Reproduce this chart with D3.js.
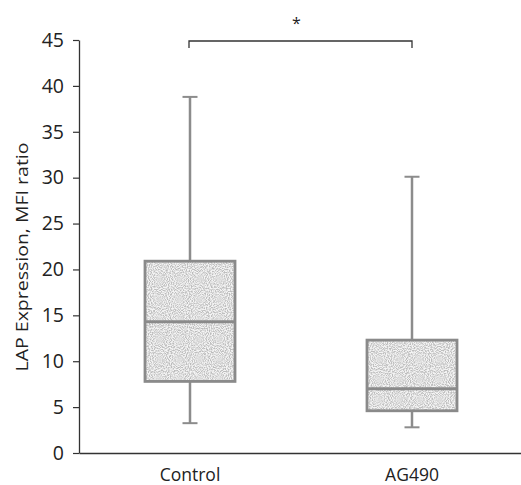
<!DOCTYPE html>
<html>
<head>
<meta charset="utf-8">
<script src="https://cdn.jsdelivr.net/npm/d3@7"></script>
<style>
  body { margin: 0; background: #fff; }
  text { font-family: "Open Sans", "Liberation Sans", sans-serif; fill: #222; }
</style>
</head>
<body>
<svg id="chart"></svg>
<script>
// data
const groups = ["Control", "AG490"];
const whiskerLow = [3.25, 2.8];
const q1 = [7.8, 4.6];
const medians = [14.3, 7.0];
const q3 = [20.9, 12.3];
const whiskerHigh = [38.8, 30.1];
const yTicks = [0, 5, 10, 15, 20, 25, 30, 35, 40, 45];
const sigLabel = "*";
const sigLevel = 45;

const width = 521, height = 485;
const svg = d3.select("#chart").attr("width", width).attr("height", height);

const x = d3.scaleBand().domain(groups).range([79, 523]);
const y = d3.scaleLinear().domain([0, 45]).range([453, 40]);

// stipple texture for the boxes
const defs = svg.append("defs");
const filt = defs.append("filter").attr("id", "grain")
  .attr("x", 0).attr("y", 0).attr("width", 1).attr("height", 1);
filt.append("feTurbulence").attr("type", "fractalNoise")
  .attr("baseFrequency", 0.95).attr("numOctaves", 1).attr("seed", 3).attr("result", "n");
filt.append("feColorMatrix").attr("in", "n").attr("type", "matrix")
  .attr("values", "0 0 0 0 0.5  0 0 0 0 0.5  0 0 0 0 0.5  0 0 0 -3 1.9")
  .attr("result", "dots");
filt.append("feComposite").attr("in", "dots").attr("in2", "SourceGraphic").attr("operator", "in");

// y axis
const yAxis = svg.append("g")
  .attr("transform", "translate(79,0)")
  .call(d3.axisLeft(y).tickValues(yTicks).tickSize(6).tickSizeOuter(0));
yAxis.select(".domain").attr("stroke", "#333").attr("stroke-width", 1.3);
yAxis.selectAll(".tick line").attr("stroke", "#333").attr("stroke-width", 1.2);
yAxis.selectAll(".tick text").attr("x", -15).style("font-size", "19.5px").attr("fill", "#222");

// x axis
const xAxis = svg.append("g")
  .attr("transform", "translate(0,453)")
  .call(d3.axisBottom(x).tickSize(0).tickSizeOuter(0));
xAxis.select(".domain").attr("stroke", "#333").attr("stroke-width", 1.3);
xAxis.selectAll(".tick text").attr("y", 28).attr("dy", 0).style("font-size", "17.5px").attr("fill", "#222");

// y label
svg.append("text")
  .attr("transform", "translate(28,257) rotate(-90)")
  .attr("text-anchor", "middle")
  .style("font-size", "17px")
  .attr("textLength", 229)
  .attr("lengthAdjust", "spacingAndGlyphs")
  .text("LAP Expression, MFI ratio");

const boxW = 90, capW = 15;
const boxes = svg.append("g").selectAll("g")
  .data(groups)
  .enter().append("g");

// whiskers
boxes.append("line")
  .attr("x1", d => x(d) + x.bandwidth() / 2)
  .attr("x2", d => x(d) + x.bandwidth() / 2)
  .attr("y1", (d, i) => y(whiskerLow[i]))
  .attr("y2", (d, i) => y(whiskerHigh[i]))
  .attr("stroke", "#8c8c8c").attr("stroke-width", 2.5);
[whiskerLow, whiskerHigh].forEach(arr => {
  boxes.append("line")
    .attr("x1", d => x(d) + x.bandwidth() / 2 - capW / 2)
    .attr("x2", d => x(d) + x.bandwidth() / 2 + capW / 2)
    .attr("y1", (d, i) => y(arr[i]))
    .attr("y2", (d, i) => y(arr[i]))
    .attr("stroke", "#8c8c8c").attr("stroke-width", 2);
});

// box body
boxes.append("rect")
  .attr("x", d => x(d) + x.bandwidth() / 2 - boxW / 2)
  .attr("width", boxW)
  .attr("y", (d, i) => y(q3[i]))
  .attr("height", (d, i) => y(q1[i]) - y(q3[i]))
  .attr("fill", "#f4f4f4");
boxes.append("rect")
  .attr("x", d => x(d) + x.bandwidth() / 2 - boxW / 2)
  .attr("width", boxW)
  .attr("y", (d, i) => y(q3[i]))
  .attr("height", (d, i) => y(q1[i]) - y(q3[i]))
  .attr("fill", "#000")
  .attr("filter", "url(#grain)");
boxes.append("rect")
  .attr("x", d => x(d) + x.bandwidth() / 2 - boxW / 2)
  .attr("width", boxW)
  .attr("y", (d, i) => y(q3[i]))
  .attr("height", (d, i) => y(q1[i]) - y(q3[i]))
  .attr("fill", "none")
  .attr("stroke", "#8a8a8a").attr("stroke-width", 2.8);

// median
boxes.append("line")
  .attr("x1", d => x(d) + x.bandwidth() / 2 - boxW / 2)
  .attr("x2", d => x(d) + x.bandwidth() / 2 + boxW / 2)
  .attr("y1", (d, i) => y(medians[i]))
  .attr("y2", (d, i) => y(medians[i]))
  .attr("stroke", "#8a8a8a").attr("stroke-width", 3);

// significance bracket
const bx1 = x(groups[0]) + x.bandwidth() / 2 - 1;
const bx2 = x(groups[1]) + x.bandwidth() / 2;
const by = y(sigLevel) + 1;
svg.append("path")
  .attr("d", d3.line()([[bx1, by + 7], [bx1, by], [bx2, by], [bx2, by + 7]]))
  .attr("fill", "none").attr("stroke", "#333").attr("stroke-width", 1.3);
svg.append("text")
  .attr("x", (bx1 + bx2) / 2 - 4)
  .attr("y", by - 12)
  .attr("text-anchor", "middle")
  .style("font-size", "16px")
  .attr("fill", "#666")
  .text(sigLabel);
</script>
</body>
</html>
